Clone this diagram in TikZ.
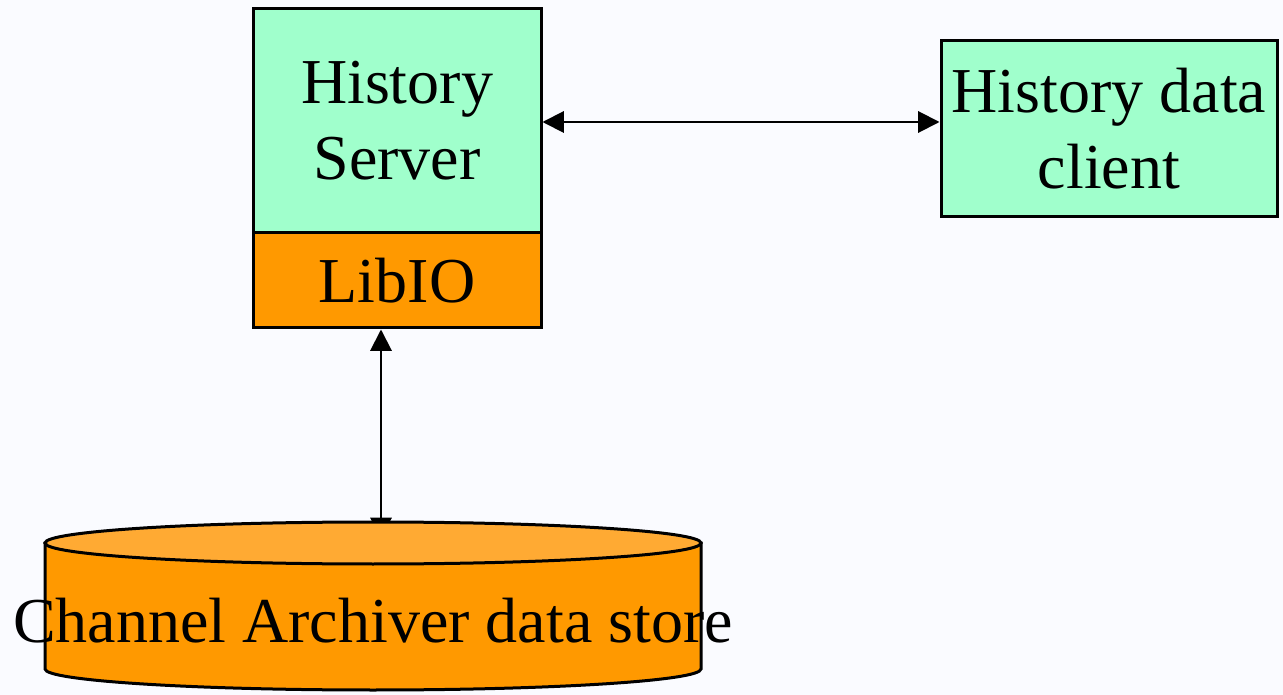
\documentclass[tikz,border=0pt]{standalone}
\usepackage{fontspec}
\setmainfont{Liberation Serif}
\usetikzlibrary{arrows.meta}
\definecolor{bg}{RGB}{250,251,255}
\definecolor{mint}{RGB}{160,255,204}
\definecolor{orng}{RGB}{255,153,0}
\definecolor{orngtop}{RGB}{255,170,51}
\begin{document}
\begin{tikzpicture}[x=0.75pt,y=-0.75pt,
  box/.style={draw=black, line width=2.25pt, align=center, inner sep=0pt,
    font=\fontsize{48}{57}\selectfont},
  conn/.style={line width=1.5pt, {Triangle[length=16pt,width=16pt]}-{Triangle[length=16pt,width=16pt]}},
  cyl/.style={draw=black, line width=2.25pt}]
\fill[bg] (0,0) rectangle (1283,695);
\useasboundingbox (0,0) rectangle (1283,695);
\node[box, fill=mint, minimum width=216pt, minimum height=168pt] (hs) at (397,121) {History\\Server};
\node[box, fill=orng, minimum width=216pt, minimum height=71.25pt] (lib) at (397,280.5) {LibIO};
\node[box, fill=mint, minimum width=252pt, minimum height=132pt] (cl) at (1109,129) {History data\\client};
\coordinate (cyltop) at (381,539);
\draw[conn] (hs.east |- 0,122) -- (cl.west |- 0,122);
\draw[conn] (lib.south -| 381,0) -- (cyltop);
% cylinder
\draw[cyl, fill=orng] (45,543) -- (45,669) arc[start angle=180, end angle=360, x radius=246pt, y radius=15.75pt] -- (701,543) -- cycle;
\draw[cyl, fill=orngtop] (373,543) ellipse[x radius=246pt, y radius=15.75pt];
\node[anchor=base, inner sep=0pt, font=\fontsize{48}{57}\selectfont] (cas) at (373,642) {Channel Archiver data store};
\end{tikzpicture}
\end{document}
